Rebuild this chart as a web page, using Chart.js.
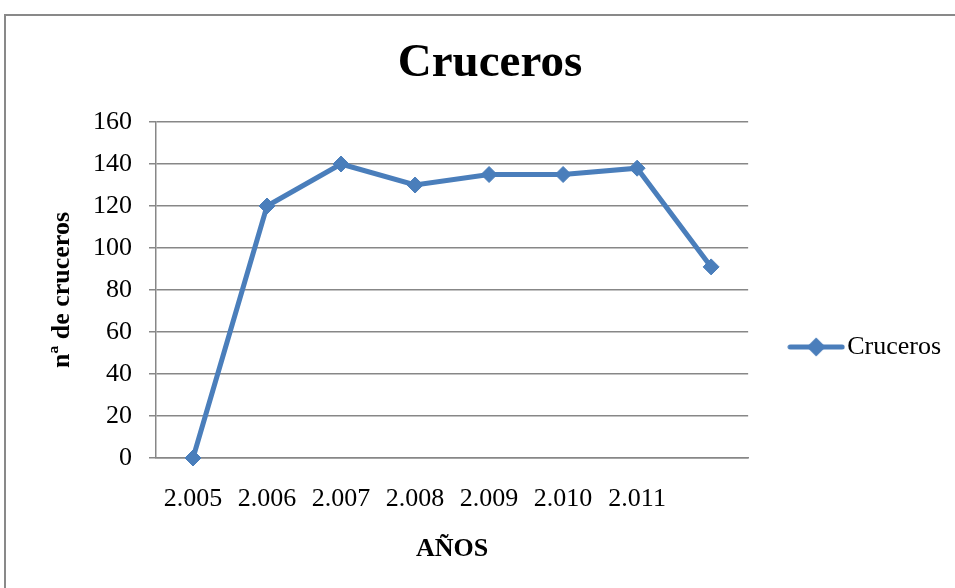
<!DOCTYPE html>
<html>
<head>
<meta charset="utf-8">
<script src="https://cdn.jsdelivr.net/npm/chart.js@4"></script>
<style>
  body { margin: 0; overflow: hidden; background: #fff; }
  #frame { position: absolute; left: 4px; top: 14px; width: 1000px; height: 620px; border: 2px solid #898989; }
  #chart1 { display: block; }
</style>
</head>
<body>
<div id="frame"><canvas id="chart1" width="958" height="572"></canvas></div>
<script>
// data
const years = ['2.005', '2.006', '2.007', '2.008', '2.009', '2.010', '2.011', '']
const cruceros = [0, 120, 140, 130, 135, 135, 138, 91]
const yTicks = [0, 20, 40, 60, 80, 100, 120, 140, 160]

const blue = '#4a7ebb'
const grey = '#878787'
const serif = 'Liberation Serif'

// legend marker: line with a diamond
const marker = document.createElement('canvas')
marker.width = 58
marker.height = 22
const mctx = marker.getContext('2d')
mctx.strokeStyle = blue
mctx.lineWidth = 5
mctx.lineCap = 'round'
mctx.beginPath()
mctx.moveTo(3, 11)
mctx.lineTo(55, 11)
mctx.stroke()
mctx.fillStyle = blue
mctx.beginPath()
mctx.moveTo(29, 1.5)
mctx.lineTo(38.5, 11)
mctx.lineTo(29, 20.5)
mctx.lineTo(19.5, 11)
mctx.closePath()
mctx.fill()

const data1 = {
  labels: years,
  datasets: [{
    label: 'Cruceros',
    data: cruceros,
    borderColor: blue,
    backgroundColor: blue,
    borderWidth: 5,
    tension: 0,
    pointStyle: 'rectRot',
    pointRadius: 8,
    pointHoverRadius: 8,
    pointBorderWidth: 1,
    pointBackgroundColor: blue,
    pointBorderColor: blue,
    clip: false
  }]
}

const config1 = {
  type: 'line',
  data: data1,
  options: {
    responsive: false,
    animation: false,
    layout: { padding: { left: 23, right: 13, top: 0, bottom: 19.2 } },
    scales: {
      x: {
        offset: true,
        grid: { display: false, drawTicks: false },
        border: { display: true, color: grey, width: 1.5 },
        ticks: { color: '#000', padding: 26, maxRotation: 0, autoSkip: false, font: { family: serif, size: 26 } },
        title: { display: true, text: 'AÑOS', color: '#000', padding: { top: -7.6, bottom: 4 }, font: { family: serif, size: 26, weight: 'bold' } }
      },
      y: {
        min: 0,
        max: 160,
        afterBuildTicks: axis => { axis.ticks = yTicks.map(v => ({ value: v })) },
        grid: { color: grey, lineWidth: 1.5, tickLength: 7, tickColor: grey },
        border: { display: true, color: grey, width: 1.5 },
        ticks: { color: '#000', padding: 17, font: { family: serif, size: 26 } },
        title: { display: true, text: 'nª de cruceros', color: '#000', padding: { top: 17.4, bottom: -1.6 }, font: { family: serif, size: 26, weight: 'bold' } }
      }
    },
    plugins: {
      title: {
        display: true,
        text: 'Cruceros',
        color: '#000',
        padding: { top: 20, bottom: 29.6 },
        font: { family: serif, size: 47, weight: 'bold' }
      },
      legend: {
        position: 'right',
        fullSize: false,
        title: { display: true, text: ' ', padding: { top: 99.6, bottom: 0 }, font: { size: 12 } },
        labels: {
          usePointStyle: true,
          pointStyleWidth: 36,
          padding: 50,
          color: '#000',
          font: { family: serif, size: 26 },
          generateLabels: chart => Chart.defaults.plugins.legend.labels.generateLabels(chart).map(l => {
            l.pointStyle = marker
            return l
          })
        }
      },
      tooltip: { enabled: false }
    }
  }
}

const myChart1 = new Chart(document.getElementById('chart1'), config1)
</script>
</body>
</html>
